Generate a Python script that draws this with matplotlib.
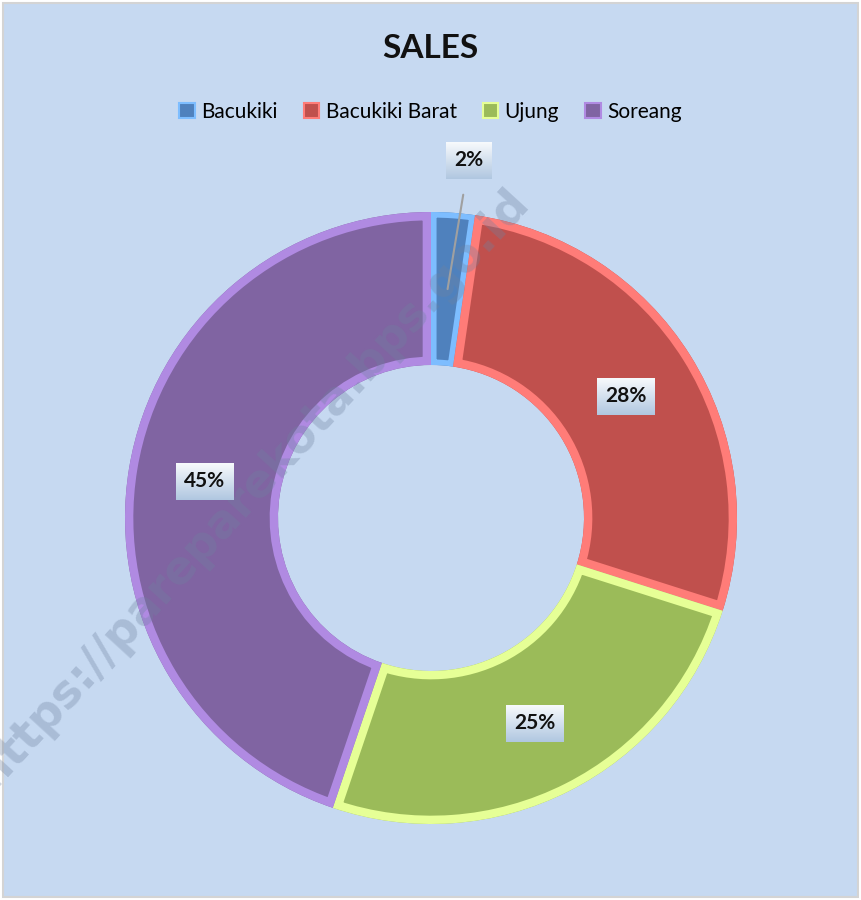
import matplotlib
matplotlib.use("Agg")
import matplotlib.pyplot as plt
import matplotlib.text as mtext
import numpy as np
from matplotlib.patches import Wedge, Rectangle, Patch

# -----------------------------
# DATA
# -----------------------------
categories = ["Bacukiki", "Bacukiki Barat", "Ujung", "Soreang"]
shares = [2.3, 27.6, 25.3, 44.8]
title = "SALES"
watermark = "https://pareparekota.bps.go.id"

main_colors = ["#4F81BD", "#C0504D", "#9BBB59", "#8064A2"]
light_colors = ["#7DBDFF", "#FF7C78", "#E6FF96", "#B08AE2"]
bg = "#C6D9F1"

W, H = 861, 900
cx, cy = 431, 382
R, r_in = 306, 153

plt.rcParams["font.family"] = ["Lato", "DejaVu Sans"]

fig = plt.figure(figsize=(W / 100, H / 100), dpi=100, facecolor="white")
ax = fig.add_axes([0, 0, 1, 1])

# chart area background
ax.add_patch(Rectangle((3, 3), W - 6, H - 6, facecolor=bg, edgecolor="#D4D4D4", lw=1.5, zorder=0))

wedges, _ = ax.pie(
    shares,
    colors=main_colors,
    startangle=90,
    counterclock=False,
    radius=R,
    center=(cx, cy),
    wedgeprops=dict(width=R - r_in, linewidth=0, zorder=2),
)

# bevel look: light rim clipped inside each slice
for i, (w, lc) in enumerate(zip(wedges, light_colors)):
    rim = Wedge(w.center, w.r, w.theta1, w.theta2, width=w.width,
                facecolor="none", edgecolor=lc, lw=8 if i == 0 else 12, zorder=3)
    ax.add_patch(rim)
    rim.set_clip_path(w)

ax.set_xlim(0, W)
ax.set_ylim(0, H)
ax.set_aspect("equal")
ax.axis("off")

# watermark
ax.text(252, 412, watermark, rotation=47.5, fontsize=33, family="DejaVu Sans",
        fontweight="bold", color="#6F82A0", alpha=0.33, ha="center", va="center", zorder=4)

# percentage labels
r_mid = (R + r_in) / 2
labels = []
for i, (w, v) in enumerate(zip(wedges, shares)):
    ang = np.deg2rad((w.theta1 + w.theta2) / 2)
    px, py = cx + r_mid * np.cos(ang), cy + r_mid * np.sin(ang)
    txt = f"{v:.0f}%"
    if i == 0:
        t = ax.annotate(txt, xy=(px, py), xytext=(cx + 38, cy + R + 52),
                        ha="center", va="center", fontsize=15, fontweight="bold",
                        color="#111111", zorder=7,
                        arrowprops=dict(arrowstyle="-", color="#A0A0A0", lw=1.5,
                                        shrinkA=16, shrinkB=0))
    else:
        t = ax.text(px, py, txt, ha="center", va="center", fontsize=15,
                    fontweight="bold", color="#111111", zorder=7)
    labels.append(t)

# gradient boxes behind labels
fig.canvas.draw()
renderer = fig.canvas.get_renderer()
grad = np.linspace(0, 1, 64).reshape(-1, 1)
top = np.array([0.97, 0.98, 0.99])
bot = np.array([0.69, 0.78, 0.88])
img = top[None, None, :] * (1 - grad[:, :, None]) + bot[None, None, :] * grad[:, :, None]
for t in labels:
    bb = mtext.Text.get_window_extent(t, renderer)
    ax.imshow(img, extent=[bb.x0 - 8, bb.x1 + 8, bb.y0 - 9, bb.y1 + 8],
              aspect="auto", zorder=6, interpolation="bilinear")

ax.set_xlim(0, W)
ax.set_ylim(0, H)

# title and legend
fig.text(0.5, 1 - 48 / H, title, ha="center", va="center", fontsize=24, fontweight="bold", color="#111111")
handles = [Patch(facecolor=c, edgecolor=lc, lw=1.5) for c, lc in zip(main_colors, light_colors)]
fig.legend(handles, categories, loc="center", bbox_to_anchor=(0.5, 1 - 112 / H), ncol=4,
           frameon=False, fontsize=15, handlelength=0.75, handleheight=0.75,
           handletextpad=0.3, columnspacing=1.25)

fig.savefig("out.png", dpi=100, facecolor="white")
